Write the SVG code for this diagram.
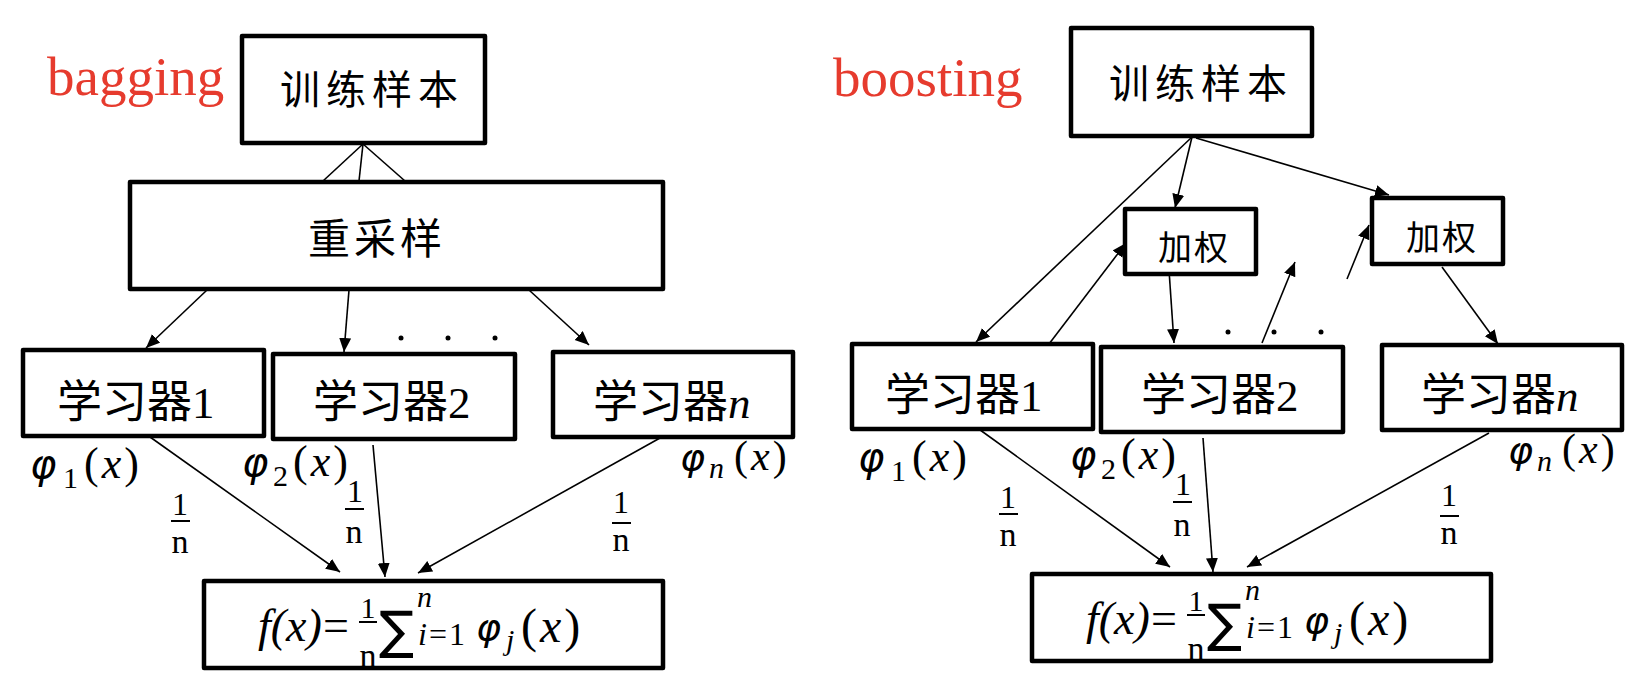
<svg xmlns="http://www.w3.org/2000/svg" width="1626" height="678" viewBox="0 0 1626 678">
<style>
.box{fill:#fff;stroke:#000;stroke-width:4.5;stroke-linejoin:round}
.cn{font-family:"Noto Sans CJK SC","Noto Sans CJK JP",sans-serif;fill:#000}
.title{font-family:"Liberation Serif",serif;font-size:55px;fill:#e63b2e}
.ti{font-family:"Liberation Serif",serif;font-style:italic;fill:#000}
.tr{font-family:"Liberation Serif",serif;font-style:normal;fill:#000}
.ph{font-family:"DejaVu Sans",sans-serif;font-style:oblique;fill:#000}
.sum{font-family:"DejaVu Sans",sans-serif;fill:#000}
.px{font-family:"Liberation Serif",serif;fill:#000;letter-spacing:3px}
.ln{stroke:#000;stroke-width:1.6;fill:none}
.ar{stroke:#000;stroke-width:1.6;fill:none;marker-end:url(#ah)}
.bar{stroke:#000;stroke-width:2}
</style>
<defs>
<marker id="ah" markerUnits="userSpaceOnUse" markerWidth="15" markerHeight="13" refX="14" refY="6" orient="auto">
<path d="M0,0 L14,6 L0,12 z" fill="#000"/>
</marker>
</defs>
<rect width="1626" height="678" fill="#fff"/>

<text class="title" x="47" y="95">bagging</text>
<text class="title" x="833" y="96">boosting</text>

<g id="connectors">
<line class="ln" x1="363" y1="144" x2="323" y2="181"/>
<line class="ln" x1="363" y1="144" x2="359" y2="181"/>
<line class="ln" x1="363" y1="144" x2="405" y2="181"/>
<line class="ar" x1="207" y1="290" x2="146" y2="348"/>
<line class="ar" x1="349" y1="290" x2="344" y2="352"/>
<line class="ar" x1="529" y1="290" x2="589" y2="345"/>
<line class="ar" x1="143" y1="432" x2="340" y2="572"/>
<line class="ar" x1="373" y1="445" x2="385" y2="577"/>
<line class="ar" x1="660" y1="438" x2="418" y2="573"/>

<line class="ar" x1="1192" y1="137" x2="976" y2="342"/>
<line class="ar" x1="1192" y1="137" x2="1175" y2="208"/>
<line class="ar" x1="1196" y1="138" x2="1389" y2="195"/>
<line class="ar" x1="1049" y1="344" x2="1126" y2="243"/>
<line class="ar" x1="1169" y1="270" x2="1174" y2="343"/>
<line class="ar" x1="1262" y1="343" x2="1295" y2="262"/>
<line class="ar" x1="1347" y1="279" x2="1369" y2="225"/>
<line class="ar" x1="1442" y1="267" x2="1498" y2="344"/>
<line class="ar" x1="976" y1="427" x2="1170" y2="567"/>
<line class="ar" x1="1203" y1="438" x2="1213" y2="572"/>
<line class="ar" x1="1489" y1="433" x2="1247" y2="567"/>

<circle cx="401" cy="338" r="2.5"/>
<circle cx="448" cy="338" r="2.5"/>
<circle cx="495" cy="338" r="2.5"/>
<circle cx="1228" cy="332" r="2.5"/>
<circle cx="1274" cy="332" r="2.5"/>
<circle cx="1321" cy="332" r="2.5"/>
</g>

<g id="bag-train">
<rect class="box" x="242" y="36" width="243" height="107"/>
<text class="cn" x="372" y="104" font-size="40" letter-spacing="6" text-anchor="middle">训练样本</text>
</g>
<g id="bag-resample">
<rect class="box" x="130" y="182" width="533" height="107"/>
<text class="cn" x="377" y="254" font-size="42" letter-spacing="4" text-anchor="middle">重采样</text>
</g>
<g id="bag-learner1">
<rect class="box" x="23" y="350" width="241" height="86"/>
<text class="cn" x="57" y="418" font-size="45">学习器<tspan class="tr">1</tspan></text>
</g>
<g id="bag-learner2">
<rect class="box" x="273" y="354" width="242" height="85"/>
<text class="cn" x="313" y="418" font-size="45">学习器<tspan class="tr">2</tspan></text>
</g>
<g id="bag-learnern">
<rect class="box" x="553" y="352" width="240" height="85"/>
<text class="cn" x="593" y="418" font-size="45">学习器<tspan class="ti">n</tspan></text>
</g>
<g id="bag-labels">
<text class="ph" x="30" y="478" font-size="40">φ</text>
<text class="tr" x="63" y="488" font-size="30">1</text>
<text class="px" x="84" y="478" font-size="44">(<tspan class="ti">x</tspan>)</text>
<text class="ph" x="242" y="476" font-size="40">φ</text>
<text class="tr" x="273" y="486" font-size="30">2</text>
<text class="px" x="293" y="476" font-size="44">(<tspan class="ti">x</tspan>)</text>
<text class="ph" x="680" y="470" font-size="38">φ</text>
<text class="ti" x="709" y="478" font-size="30">n</text>
<text class="px" x="734" y="470" font-size="42">(<tspan class="ti">x</tspan>)</text>
<text class="tr" x="180" y="515" font-size="32" text-anchor="middle">1</text>
<line class="bar" x1="171" y1="521" x2="190" y2="521"/>
<text class="tr" x="180" y="553" font-size="34" text-anchor="middle">n</text>
<text class="tr" x="355" y="502" font-size="32" text-anchor="middle">1</text>
<line class="bar" x1="345" y1="509" x2="364" y2="509"/>
<text class="tr" x="354" y="543" font-size="34" text-anchor="middle">n</text>
<text class="tr" x="621" y="513" font-size="32" text-anchor="middle">1</text>
<line class="bar" x1="612" y1="523" x2="631" y2="523"/>
<text class="tr" x="621" y="551" font-size="34" text-anchor="middle">n</text>
</g>
<g id="bag-formula">
<rect class="box" x="204" y="581" width="459" height="87"/>
<text class="ti" x="258" y="641" font-size="46">f(x)</text>
<text class="tr" x="323" y="641" font-size="46">=</text>
<text class="tr" x="368" y="618" font-size="30" text-anchor="middle">1</text>
<line class="bar" x1="359" y1="622" x2="377" y2="622"/>
<text class="tr" x="368" y="667" font-size="34" text-anchor="middle">n</text>
<text class="sum" x="379" y="648" font-size="52">∑</text>
<text class="ti" x="417" y="607" font-size="30">n</text>
<text class="ti" x="418" y="645" font-size="32" letter-spacing="2">i<tspan class="tr">=1</tspan></text>
<text class="ph" x="476" y="640" font-size="38">φ</text>
<text class="ti" x="506" y="650" font-size="30">j</text>
<text class="px" x="521" y="642" font-size="48">(<tspan class="ti">x</tspan>)</text>
</g>

<g id="boost-train">
<rect class="box" x="1071" y="28" width="241" height="108"/>
<text class="cn" x="1201" y="98" font-size="40" letter-spacing="6" text-anchor="middle">训练样本</text>
</g>
<g id="boost-weight1">
<rect class="box" x="1125" y="209" width="131" height="65"/>
<text class="cn" x="1194" y="260" font-size="34" letter-spacing="2" text-anchor="middle">加权</text>
</g>
<g id="boost-weight2">
<rect class="box" x="1372" y="198" width="131" height="66"/>
<text class="cn" x="1442" y="250" font-size="34" letter-spacing="2" text-anchor="middle">加权</text>
</g>
<g id="boost-learner1" transform="translate(828,-7)">
<rect class="box" x="24" y="351" width="241" height="85"/>
<text class="cn" x="57" y="418" font-size="45">学习器<tspan class="tr">1</tspan></text>
</g>
<g id="boost-learner2" transform="translate(828,-7)">
<rect class="box" x="273" y="354" width="242" height="85"/>
<text class="cn" x="313" y="418" font-size="45">学习器<tspan class="tr">2</tspan></text>
</g>
<g id="boost-learnern" transform="translate(828,-7)">
<rect class="box" x="554" y="352" width="240" height="85"/>
<text class="cn" x="593" y="418" font-size="45">学习器<tspan class="ti">n</tspan></text>
</g>
<g id="boost-labels" transform="translate(828,-7)">
<text class="ph" x="30" y="478" font-size="40">φ</text>
<text class="tr" x="63" y="488" font-size="30">1</text>
<text class="px" x="84" y="478" font-size="44">(<tspan class="ti">x</tspan>)</text>
<text class="ph" x="242" y="476" font-size="40">φ</text>
<text class="tr" x="273" y="486" font-size="30">2</text>
<text class="px" x="293" y="476" font-size="44">(<tspan class="ti">x</tspan>)</text>
<text class="ph" x="680" y="470" font-size="38">φ</text>
<text class="ti" x="709" y="478" font-size="30">n</text>
<text class="px" x="734" y="470" font-size="42">(<tspan class="ti">x</tspan>)</text>
<text class="tr" x="180" y="515" font-size="32" text-anchor="middle">1</text>
<line class="bar" x1="171" y1="521" x2="190" y2="521"/>
<text class="tr" x="180" y="553" font-size="34" text-anchor="middle">n</text>
<text class="tr" x="355" y="502" font-size="32" text-anchor="middle">1</text>
<line class="bar" x1="345" y1="509" x2="364" y2="509"/>
<text class="tr" x="354" y="543" font-size="34" text-anchor="middle">n</text>
<text class="tr" x="621" y="513" font-size="32" text-anchor="middle">1</text>
<line class="bar" x1="612" y1="523" x2="631" y2="523"/>
<text class="tr" x="621" y="551" font-size="34" text-anchor="middle">n</text>
</g>
<g id="boost-formula" transform="translate(828,-7)">
<rect class="box" x="204" y="581" width="459" height="87"/>
<text class="ti" x="258" y="641" font-size="46">f(x)</text>
<text class="tr" x="323" y="641" font-size="46">=</text>
<text class="tr" x="368" y="618" font-size="30" text-anchor="middle">1</text>
<line class="bar" x1="359" y1="622" x2="377" y2="622"/>
<text class="tr" x="368" y="667" font-size="34" text-anchor="middle">n</text>
<text class="sum" x="379" y="648" font-size="52">∑</text>
<text class="ti" x="417" y="607" font-size="30">n</text>
<text class="ti" x="418" y="645" font-size="32" letter-spacing="2">i<tspan class="tr">=1</tspan></text>
<text class="ph" x="476" y="640" font-size="38">φ</text>
<text class="ti" x="506" y="650" font-size="30">j</text>
<text class="px" x="521" y="642" font-size="48">(<tspan class="ti">x</tspan>)</text>
</g>
</svg>
